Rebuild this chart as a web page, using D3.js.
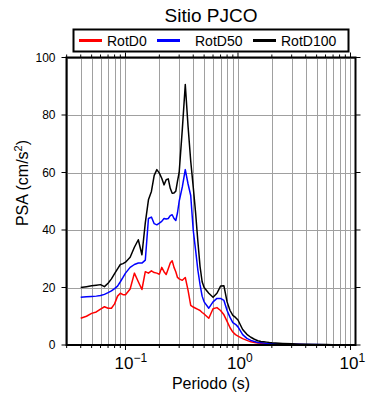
<!DOCTYPE html>
<html>
<head>
<meta charset="utf-8">
<script src="https://cdn.jsdelivr.net/npm/d3@7"></script>
<style>
  body { margin: 0; background: #fff; }
  text { font-family: "Liberation Sans", Arial, sans-serif; }
</style>
</head>
<body>
<div id="chart"></div>
<script>
var width   = 390,
    height  = 400,
    pLeft   = 66.5,
    pRight  = 355.5,
    pTop    = 57.5,
    pBottom = 345;

// periods (s)
var periods = [0.04, 0.045, 0.05, 0.055, 0.06, 0.065, 0.07, 0.075, 0.08, 0.085, 0.09, 0.095,
    0.1, 0.11, 0.12, 0.13, 0.14, 0.15, 0.16, 0.17, 0.18, 0.19, 0.2, 0.21, 0.22, 0.23, 0.24,
    0.25, 0.26, 0.27, 0.28, 0.29, 0.3, 0.32, 0.34, 0.36, 0.38, 0.4, 0.42, 0.44, 0.46, 0.48,
    0.5, 0.55, 0.6, 0.65, 0.7, 0.75, 0.8, 0.85, 0.9, 0.95, 1.0, 1.1, 1.2, 1.3, 1.4, 1.5,
    1.6, 1.7, 1.8, 1.9, 2, 2.5, 3, 3.5, 4, 5, 6, 7, 8, 9, 10];

var rotD0 = [9.3, 10, 11, 11.5, 12.5, 13.3, 12.8, 12.8, 14.3, 17, 18, 17.5,
    17.5, 19.5, 25, 22, 19.3, 25.5, 25, 25.8, 25.2, 25, 24.6, 27, 25.5, 24.5, 26.5,
    28.5, 29.3, 27, 25.5, 23.5, 23, 22.5, 23.5, 19, 13.8, 13.2, 12.8, 12.4, 12, 11.3,
    10.8, 9.3, 12.6, 13, 12, 10.5, 8.2, 6, 4.5, 3.6, 3.1, 2.2, 1.6, 1.1, 0.9, 0.7,
    0.6, 0.5, 0.45, 0.4, 0.35, 0.25, 0.2, 0.15, 0.12, 0.1, 0.08, 0.06, 0.05, 0.05, 0.04];

var rotD50 = [16.6, 16.8, 16.9, 17, 17.2, 17.6, 18.2, 18.8, 19.6, 20.5, 22, 23.5,
    25, 27, 28, 28.5, 28.5, 29.5, 44, 44.5, 42.2, 41.8, 42.4, 43, 44, 43.8, 44,
    45, 45.3, 44, 43.3, 46, 50, 55, 61, 56, 52, 40, 33, 26, 21, 17,
    15, 12.8, 15, 16.2, 16.2, 15.5, 12, 9.6, 7.8, 7.2, 6.3, 3.6, 2.3, 1.6, 1.2, 0.9,
    0.8, 0.7, 0.6, 0.55, 0.5, 0.4, 0.3, 0.23, 0.2, 0.15, 0.12, 0.1, 0.08, 0.07, 0.06];

var rotD100 = [20, 20.3, 20.6, 20.8, 21, 20.3, 21.5, 23, 24.8, 26.5, 28, 28.3,
    28.8, 30.5, 34, 36.6, 31.4, 42.5, 50.5, 53.4, 59, 61, 59.8, 58, 55.7, 57.5, 57.8,
    54.5, 52.8, 52.9, 53.5, 57, 60, 75, 90.6, 76, 64, 55, 46, 36, 27.3, 22,
    20, 18, 16.6, 18, 20.5, 20.6, 15, 12, 10.3, 9.6, 8.7, 5.4, 3.7, 2.7, 2.0, 1.5,
    1.2, 1.1, 1.0, 0.85, 0.75, 0.55, 0.4, 0.3, 0.25, 0.2, 0.15, 0.12, 0.1, 0.08, 0.07];

var seriesNames  = ["RotD0", "RotD50", "RotD100"];
var seriesColors = ["#ff0000", "#0000ff", "#000000"];
var seriesValues = [rotD0, rotD50, rotD100];

var yTicks = [0, 20, 40, 60, 80, 100];
var xDecades = [0.1, 1, 10];
var xDecadeLabels = ["\u22121", "0", "1"];

var x = d3.scaleLog()
    .domain([0.0299, 11.08])
    .range([pLeft, pRight]);
var y = d3.scaleLinear()
    .domain([0, 100])
    .range([pBottom, pTop]);

var svg = d3.select("#chart").append("svg")
    .attr("width", width)
    .attr("height", height);

// minor ticks for the log axis (1..9 times each decade)
var minor = [];
[0.01, 0.1, 1, 10].forEach(function(p) {
    for (var k = 1; k <= 9; k++) {
        var v = p * k;
        if (v >= x.domain()[0] && v <= x.domain()[1]) minor.push(v);
    }
});

// grid
var grid = svg.append("g").attr("class", "grid")
    .attr("stroke", "#a0a0a0")
    .attr("stroke-width", 1);
grid.selectAll("line.vx")
    .data(minor)
    .enter().append("line")
    .attr("x1", function(d) { return Math.round(x(d)) + 0.5; })
    .attr("x2", function(d) { return Math.round(x(d)) + 0.5; })
    .attr("y1", pTop)
    .attr("y2", pBottom);
grid.selectAll("line.hy")
    .data(yTicks)
    .enter().append("line")
    .attr("x1", pLeft)
    .attr("x2", pRight)
    .attr("y1", function(d) { return Math.round(y(d)) + 0.5; })
    .attr("y2", function(d) { return Math.round(y(d)) + 0.5; });

// curves
svg.append("clipPath").attr("id", "clip")
    .append("rect")
    .attr("x", pLeft).attr("y", pTop)
    .attr("width", pRight - pLeft).attr("height", pBottom - pTop);

var line = d3.line()
    .x(function(d) { return x(d[0]); })
    .y(function(d) { return y(d[1]); });

svg.append("g").attr("clip-path", "url(#clip)")
    .selectAll("path")
    .data(seriesValues)
    .enter().append("path")
    .attr("fill", "none")
    .attr("stroke", function(d, i) { return seriesColors[i]; })
    .attr("stroke-width", 1.5)
    .attr("stroke-linejoin", "round")
    .attr("d", function(vals) {
        return line(periods.map(function(p, i) { return [p, vals[i]]; }));
    });

// ticks on all four sides, pointing out
function xTicks(g, ypos, dir) {
    g.selectAll(null)
        .data(minor)
        .enter().append("line")
        .attr("x1", function(d) { return x(d); })
        .attr("x2", function(d) { return x(d); })
        .attr("y1", ypos)
        .attr("y2", function(d) {
            return ypos + dir * (xDecades.indexOf(d) >= 0 ? 5 : 3);
        });
}
var axes = svg.append("g").attr("stroke", "#000").attr("stroke-width", 1);
xTicks(axes, pBottom, 1);
xTicks(axes, pTop, -1);
axes.selectAll(null)
    .data(yTicks)
    .enter().append("line")
    .attr("x1", pLeft - 5).attr("x2", pLeft)
    .attr("y1", function(d) { return y(d); })
    .attr("y2", function(d) { return y(d); });
axes.selectAll(null)
    .data(yTicks)
    .enter().append("line")
    .attr("x1", pRight).attr("x2", pRight + 5)
    .attr("y1", function(d) { return y(d); })
    .attr("y2", function(d) { return y(d); });

// frame
svg.append("rect")
    .attr("x", pLeft).attr("y", pTop)
    .attr("width", pRight - pLeft).attr("height", pBottom - pTop)
    .attr("fill", "none")
    .attr("stroke", "#000")
    .attr("stroke-width", 2);

// tick labels
svg.append("g").selectAll("text")
    .data(yTicks)
    .enter().append("text")
    .attr("x", pLeft - 11)
    .attr("y", function(d) { return y(d) + 4.3; })
    .attr("text-anchor", "end")
    .attr("font-size", 12)
    .text(function(d) { return d; });

var xl = svg.append("g").selectAll("text")
    .data(xDecades)
    .enter().append("text")
    .attr("x", function(d) { return x(d) - 11; })
    .attr("y", 368.5)
    .attr("text-anchor", "start")
    .attr("font-size", 17);
xl.append("tspan").text("10");
xl.append("tspan")
    .attr("dy", -7)
    .attr("font-size", 12)
    .text(function(d, i) { return xDecadeLabels[i]; });

// axis titles
svg.append("text")
    .attr("x", 211)
    .attr("y", 388.5)
    .attr("text-anchor", "middle")
    .attr("font-size", 16)
    .text("Periodo (s)");

var yt = svg.append("text")
    .attr("transform", "translate(28,183) rotate(-90)")
    .attr("text-anchor", "middle")
    .attr("font-size", 16);
yt.append("tspan").text("PSA (cm/s");
yt.append("tspan").attr("dy", -6).attr("font-size", 11).text("2");
yt.append("tspan").attr("dy", 6).text(")");

// title
svg.append("text")
    .attr("x", 211)
    .attr("y", 22)
    .attr("text-anchor", "middle")
    .attr("font-size", 19)
    .text("Sitio PJCO");

// legend
var legend = svg.append("g");
legend.append("rect")
    .attr("x", 73.5).attr("y", 29.5)
    .attr("width", 275).attr("height", 22)
    .attr("fill", "#fff")
    .attr("stroke", "#000")
    .attr("stroke-width", 2);
var legX = [79, 157, 253];
var item = legend.selectAll("g.item")
    .data(seriesNames)
    .enter().append("g")
    .attr("transform", function(d, i) { return "translate(" + legX[i] + ",40.5)"; });
item.append("line")
    .attr("x1", 0).attr("x2", 23)
    .attr("stroke", function(d, i) { return seriesColors[i]; })
    .attr("stroke-width", 3);
item.append("text")
    .attr("x", function(d, i) { return i == 1 ? 38 : 28; })
    .attr("y", 5)
    .attr("font-size", 14)
    .text(function(d) { return d; });
</script>
</body>
</html>
